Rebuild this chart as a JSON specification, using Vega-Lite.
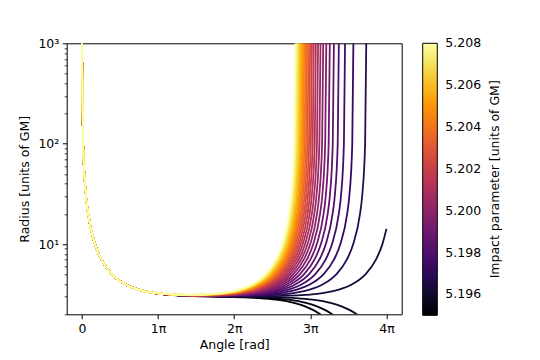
{
"$schema": "https://vega.github.io/schema/vega-lite/v6.json",
"width": 335, "height": 271,
"autosize": "none",
"padding": {"left": 66.7, "top": 43.3, "right": 138.3, "bottom": 45.7},
"background": "white",
"config": {
  "font": "DejaVu Sans",
  "view": {"stroke": "#000000", "strokeWidth": 1},
  "axis": {"grid": false, "domain": false, "tickColor": "#000", "labelColor": "#000", "titleColor": "#000", "labelFontSize": 12.5, "titleFontSize": 12.5, "titleFontWeight": "normal", "labelFont": "DejaVu Sans", "titleFont": "DejaVu Sans"},
  "legend": {"labelFontSize": 12.5, "titleFontSize": 12.5, "titleFontWeight": "normal", "labelColor": "#000", "titleColor": "#000", "labelFont": "DejaVu Sans", "titleFont": "DejaVu Sans"}
},
"data": {"values": [
{"b":5.195,"p":0,"r":1000},{"b":5.195,"p":0.047,"r":100},{"b":5.195,"p":0.169,"r":30},{"b":5.195,"p":0.257,"r":20},{"b":5.195,"p":0.537,"r":10},{"b":5.195,"p":0.804,"r":7},{"b":5.195,"p":1.237,"r":5},{"b":5.195,"p":1.767,"r":4},{"b":5.195,"p":2.366,"r":3.5},{"b":5.195,"p":2.837,"r":3.3},
{"b":5.195,"p":3.221,"r":3.198},{"b":5.195,"p":3.893,"r":3.096},{"b":5.195,"p":4.575,"r":3.043},{"b":5.195,"p":5.572,"r":3},{"b":5.195,"p":6.592,"r":2.956},{"b":5.195,"p":7.297,"r":2.903},{"b":5.195,"p":8.013,"r":2.801},{"b":5.195,"p":8.754,"r":2.6},{"b":5.195,"p":9.21,"r":2.4},{"b":5.195,"p":9.552,"r":2.2},{"b":5.195,"p":9.833,"r":2},{"b":5.195,"p":10.077,"r":1.8},
{"b":5.19545,"p":0,"r":1000},{"b":5.19545,"p":0.047,"r":100},{"b":5.19545,"p":0.169,"r":30},{"b":5.19545,"p":0.257,"r":20},{"b":5.19545,"p":0.537,"r":10},{"b":5.19545,"p":0.804,"r":7},{"b":5.19545,"p":1.237,"r":5},{"b":5.19545,"p":1.767,"r":4},{"b":5.19545,"p":2.366,"r":3.5},{"b":5.19545,"p":2.837,"r":3.3},
{"b":5.19545,"p":3.221,"r":3.199},{"b":5.19545,"p":3.893,"r":3.098},{"b":5.19545,"p":4.575,"r":3.046},{"b":5.19545,"p":5.819,"r":3},{"b":5.19545,"p":7.085,"r":2.954},{"b":5.19545,"p":7.79,"r":2.902},{"b":5.19545,"p":8.506,"r":2.8},{"b":5.19545,"p":9.247,"r":2.6},{"b":5.19545,"p":9.703,"r":2.4},{"b":5.19545,"p":10.045,"r":2.2},{"b":5.19545,"p":10.326,"r":2},{"b":5.19545,"p":10.57,"r":1.8},
{"b":5.1959,"p":0,"r":1000},{"b":5.1959,"p":0.047,"r":100},{"b":5.1959,"p":0.169,"r":30},{"b":5.1959,"p":0.257,"r":20},{"b":5.1959,"p":0.537,"r":10},{"b":5.1959,"p":0.804,"r":7},{"b":5.1959,"p":1.237,"r":5},{"b":5.1959,"p":1.767,"r":4},{"b":5.1959,"p":2.366,"r":3.5},{"b":5.1959,"p":2.837,"r":3.3},
{"b":5.1959,"p":3.221,"r":3.2},{"b":5.1959,"p":3.893,"r":3.099},{"b":5.1959,"p":4.575,"r":3.049},{"b":5.1959,"p":5.487,"r":3.016},{"b":5.1959,"p":6.325,"r":3},{"b":5.1959,"p":7.174,"r":2.984},{"b":5.1959,"p":8.097,"r":2.951},{"b":5.1959,"p":8.802,"r":2.9},{"b":5.1959,"p":9.518,"r":2.8},{"b":5.1959,"p":10.259,"r":2.6},{"b":5.1959,"p":10.715,"r":2.4},{"b":5.1959,"p":11.057,"r":2.2},{"b":5.1959,"p":11.338,"r":2},{"b":5.1959,"p":11.582,"r":1.8},
{"b":5.19634,"p":0,"r":1000},{"b":5.19634,"p":0.047,"r":100},{"b":5.19634,"p":0.169,"r":30},{"b":5.19634,"p":0.257,"r":20},{"b":5.19634,"p":0.537,"r":10},{"b":5.19634,"p":0.804,"r":7},{"b":5.19634,"p":1.237,"r":5},{"b":5.19634,"p":1.767,"r":4},{"b":5.19634,"p":2.366,"r":3.5},{"b":5.19634,"p":2.837,"r":3.3},
{"b":5.19634,"p":3.221,"r":3.2},{"b":5.19634,"p":3.893,"r":3.101},{"b":5.19634,"p":4.575,"r":3.051},{"b":5.19634,"p":5.487,"r":3.023},{"b":5.19634,"p":6.467,"r":3.015},{"b":5.19634,"p":7.448,"r":3.023},{"b":5.19634,"p":8.36,"r":3.051},{"b":5.19634,"p":9.042,"r":3.101},{"b":5.19634,"p":9.714,"r":3.2},{"b":5.19634,"p":10.098,"r":3.3},{"b":5.19634,"p":10.569,"r":3.5},{"b":5.19634,"p":11.168,"r":4},{"b":5.19634,"p":11.698,"r":5},{"b":5.19634,"p":12.131,"r":7},{"b":5.19634,"p":12.398,"r":10},{"b":5.19634,"p":12.566,"r":14.19},
{"b":5.19679,"p":0,"r":1000},{"b":5.19679,"p":0.047,"r":100},{"b":5.19679,"p":0.169,"r":30},{"b":5.19679,"p":0.257,"r":20},{"b":5.19679,"p":0.537,"r":10},{"b":5.19679,"p":0.804,"r":7},{"b":5.19679,"p":1.237,"r":5},{"b":5.19679,"p":1.767,"r":4},{"b":5.19679,"p":2.366,"r":3.5},{"b":5.19679,"p":2.837,"r":3.3},
{"b":5.19679,"p":3.221,"r":3.2},{"b":5.19679,"p":3.893,"r":3.102},{"b":5.19679,"p":4.575,"r":3.054},{"b":5.19679,"p":5.866,"r":3.027},{"b":5.19679,"p":7.157,"r":3.054},{"b":5.19679,"p":7.839,"r":3.102},{"b":5.19679,"p":8.511,"r":3.2},{"b":5.19679,"p":8.895,"r":3.3},{"b":5.19679,"p":9.366,"r":3.5},{"b":5.19679,"p":9.965,"r":4},{"b":5.19679,"p":10.495,"r":5},{"b":5.19679,"p":10.928,"r":7},{"b":5.19679,"p":11.195,"r":10},{"b":5.19679,"p":11.474,"r":20},{"b":5.19679,"p":11.563,"r":30},{"b":5.19679,"p":11.685,"r":100},{"b":5.19679,"p":11.732,"r":1000},
{"b":5.19724,"p":0,"r":1000},{"b":5.19724,"p":0.047,"r":100},{"b":5.19724,"p":0.169,"r":30},{"b":5.19724,"p":0.257,"r":20},{"b":5.19724,"p":0.537,"r":10},{"b":5.19724,"p":0.804,"r":7},{"b":5.19724,"p":1.237,"r":5},{"b":5.19724,"p":1.767,"r":4},{"b":5.19724,"p":2.366,"r":3.5},{"b":5.19724,"p":2.837,"r":3.3},
{"b":5.19724,"p":3.221,"r":3.2},{"b":5.19724,"p":3.893,"r":3.103},{"b":5.19724,"p":4.575,"r":3.057},{"b":5.19724,"p":5.601,"r":3.036},{"b":5.19724,"p":6.626,"r":3.057},{"b":5.19724,"p":7.309,"r":3.103},{"b":5.19724,"p":7.98,"r":3.2},{"b":5.19724,"p":8.365,"r":3.3},{"b":5.19724,"p":8.835,"r":3.5},{"b":5.19724,"p":9.435,"r":4},{"b":5.19724,"p":9.965,"r":5},{"b":5.19724,"p":10.398,"r":7},{"b":5.19724,"p":10.665,"r":10},{"b":5.19724,"p":10.944,"r":20},{"b":5.19724,"p":11.033,"r":30},{"b":5.19724,"p":11.155,"r":100},{"b":5.19724,"p":11.201,"r":1000},
{"b":5.19769,"p":0,"r":1000},{"b":5.19769,"p":0.047,"r":100},{"b":5.19769,"p":0.169,"r":30},{"b":5.19769,"p":0.257,"r":20},{"b":5.19769,"p":0.537,"r":10},{"b":5.19769,"p":0.804,"r":7},{"b":5.19769,"p":1.237,"r":5},{"b":5.19769,"p":1.767,"r":4},{"b":5.19769,"p":2.366,"r":3.5},{"b":5.19769,"p":2.837,"r":3.3},
{"b":5.19769,"p":3.221,"r":3.2},{"b":5.19769,"p":3.893,"r":3.105},{"b":5.19769,"p":5.428,"r":3.043},{"b":5.19769,"p":6.964,"r":3.105},{"b":5.19769,"p":7.636,"r":3.2},{"b":5.19769,"p":8.02,"r":3.3},{"b":5.19769,"p":8.491,"r":3.5},{"b":5.19769,"p":9.09,"r":4},{"b":5.19769,"p":9.62,"r":5},{"b":5.19769,"p":10.053,"r":7},{"b":5.19769,"p":10.32,"r":10},{"b":5.19769,"p":10.599,"r":20},{"b":5.19769,"p":10.688,"r":30},{"b":5.19769,"p":10.81,"r":100},{"b":5.19769,"p":10.857,"r":1000},
{"b":5.19814,"p":0,"r":1000},{"b":5.19814,"p":0.047,"r":100},{"b":5.19814,"p":0.169,"r":30},{"b":5.19814,"p":0.257,"r":20},{"b":5.19814,"p":0.537,"r":10},{"b":5.19814,"p":0.804,"r":7},{"b":5.19814,"p":1.237,"r":5},{"b":5.19814,"p":1.767,"r":4},{"b":5.19814,"p":2.366,"r":3.5},{"b":5.19814,"p":2.837,"r":3.3},
{"b":5.19814,"p":3.221,"r":3.2},{"b":5.19814,"p":3.893,"r":3.106},{"b":5.19814,"p":5.3,"r":3.049},{"b":5.19814,"p":6.708,"r":3.106},{"b":5.19814,"p":7.38,"r":3.2},{"b":5.19814,"p":7.764,"r":3.3},{"b":5.19814,"p":8.235,"r":3.5},{"b":5.19814,"p":8.834,"r":4},{"b":5.19814,"p":9.364,"r":5},{"b":5.19814,"p":9.797,"r":7},{"b":5.19814,"p":10.064,"r":10},{"b":5.19814,"p":10.343,"r":20},{"b":5.19814,"p":10.432,"r":30},{"b":5.19814,"p":10.554,"r":100},{"b":5.19814,"p":10.601,"r":1000},
{"b":5.19859,"p":0,"r":1000},{"b":5.19859,"p":0.047,"r":100},{"b":5.19859,"p":0.169,"r":30},{"b":5.19859,"p":0.257,"r":20},{"b":5.19859,"p":0.537,"r":10},{"b":5.19859,"p":0.804,"r":7},{"b":5.19859,"p":1.237,"r":5},{"b":5.19859,"p":1.767,"r":4},{"b":5.19859,"p":2.366,"r":3.5},{"b":5.19859,"p":2.837,"r":3.3},
{"b":5.19859,"p":3.221,"r":3.2},{"b":5.19859,"p":3.893,"r":3.108},{"b":5.19859,"p":5.199,"r":3.054},{"b":5.19859,"p":6.504,"r":3.108},{"b":5.19859,"p":7.176,"r":3.2},{"b":5.19859,"p":7.561,"r":3.3},{"b":5.19859,"p":8.031,"r":3.5},{"b":5.19859,"p":8.63,"r":4},{"b":5.19859,"p":9.16,"r":5},{"b":5.19859,"p":9.593,"r":7},{"b":5.19859,"p":9.861,"r":10},{"b":5.19859,"p":10.14,"r":20},{"b":5.19859,"p":10.228,"r":30},{"b":5.19859,"p":10.35,"r":100},{"b":5.19859,"p":10.397,"r":1000},
{"b":5.19903,"p":0,"r":1000},{"b":5.19903,"p":0.047,"r":100},{"b":5.19903,"p":0.169,"r":30},{"b":5.19903,"p":0.257,"r":20},{"b":5.19903,"p":0.537,"r":10},{"b":5.19903,"p":0.804,"r":7},{"b":5.19903,"p":1.237,"r":5},{"b":5.19903,"p":1.767,"r":4},{"b":5.19903,"p":2.366,"r":3.5},{"b":5.19903,"p":2.837,"r":3.3},
{"b":5.19903,"p":3.221,"r":3.2},{"b":5.19903,"p":3.893,"r":3.109},{"b":5.19903,"p":5.114,"r":3.059},{"b":5.19903,"p":6.335,"r":3.109},{"b":5.19903,"p":7.007,"r":3.2},{"b":5.19903,"p":7.392,"r":3.3},{"b":5.19903,"p":7.862,"r":3.5},{"b":5.19903,"p":8.461,"r":4},{"b":5.19903,"p":8.991,"r":5},{"b":5.19903,"p":9.424,"r":7},{"b":5.19903,"p":9.692,"r":10},{"b":5.19903,"p":9.971,"r":20},{"b":5.19903,"p":10.059,"r":30},{"b":5.19903,"p":10.181,"r":100},{"b":5.19903,"p":10.228,"r":1000},
{"b":5.19948,"p":0,"r":1000},{"b":5.19948,"p":0.047,"r":100},{"b":5.19948,"p":0.169,"r":30},{"b":5.19948,"p":0.257,"r":20},{"b":5.19948,"p":0.537,"r":10},{"b":5.19948,"p":0.804,"r":7},{"b":5.19948,"p":1.237,"r":5},{"b":5.19948,"p":1.767,"r":4},{"b":5.19948,"p":2.366,"r":3.5},{"b":5.19948,"p":2.837,"r":3.3},
{"b":5.19948,"p":3.221,"r":3.2},{"b":5.19948,"p":3.893,"r":3.111},{"b":5.19948,"p":5.042,"r":3.063},{"b":5.19948,"p":6.191,"r":3.111},{"b":5.19948,"p":6.863,"r":3.2},{"b":5.19948,"p":7.247,"r":3.3},{"b":5.19948,"p":7.717,"r":3.5},{"b":5.19948,"p":8.317,"r":4},{"b":5.19948,"p":8.847,"r":5},{"b":5.19948,"p":9.28,"r":7},{"b":5.19948,"p":9.547,"r":10},{"b":5.19948,"p":9.826,"r":20},{"b":5.19948,"p":9.915,"r":30},{"b":5.19948,"p":10.037,"r":100},{"b":5.19948,"p":10.084,"r":1000},
{"b":5.19993,"p":0,"r":1000},{"b":5.19993,"p":0.047,"r":100},{"b":5.19993,"p":0.169,"r":30},{"b":5.19993,"p":0.257,"r":20},{"b":5.19993,"p":0.537,"r":10},{"b":5.19993,"p":0.804,"r":7},{"b":5.19993,"p":1.237,"r":5},{"b":5.19993,"p":1.767,"r":4},{"b":5.19993,"p":2.366,"r":3.5},{"b":5.19993,"p":2.837,"r":3.3},
{"b":5.19993,"p":3.221,"r":3.2},{"b":5.19993,"p":3.893,"r":3.112},{"b":5.19993,"p":4.979,"r":3.068},{"b":5.19993,"p":6.065,"r":3.112},{"b":5.19993,"p":6.736,"r":3.2},{"b":5.19993,"p":7.121,"r":3.3},{"b":5.19993,"p":7.591,"r":3.5},{"b":5.19993,"p":8.19,"r":4},{"b":5.19993,"p":8.72,"r":5},{"b":5.19993,"p":9.153,"r":7},{"b":5.19993,"p":9.421,"r":10},{"b":5.19993,"p":9.7,"r":20},{"b":5.19993,"p":9.788,"r":30},{"b":5.19993,"p":9.91,"r":100},{"b":5.19993,"p":9.957,"r":1000},
{"b":5.20038,"p":0,"r":1000},{"b":5.20038,"p":0.047,"r":100},{"b":5.20038,"p":0.169,"r":30},{"b":5.20038,"p":0.257,"r":20},{"b":5.20038,"p":0.537,"r":10},{"b":5.20038,"p":0.804,"r":7},{"b":5.20038,"p":1.237,"r":5},{"b":5.20038,"p":1.767,"r":4},{"b":5.20038,"p":2.366,"r":3.5},{"b":5.20038,"p":2.837,"r":3.3},
{"b":5.20038,"p":3.221,"r":3.2},{"b":5.20038,"p":3.893,"r":3.114},{"b":5.20038,"p":4.923,"r":3.072},{"b":5.20038,"p":5.952,"r":3.114},{"b":5.20038,"p":6.624,"r":3.2},{"b":5.20038,"p":7.009,"r":3.3},{"b":5.20038,"p":7.479,"r":3.5},{"b":5.20038,"p":8.078,"r":4},{"b":5.20038,"p":8.608,"r":5},{"b":5.20038,"p":9.041,"r":7},{"b":5.20038,"p":9.309,"r":10},{"b":5.20038,"p":9.588,"r":20},{"b":5.20038,"p":9.676,"r":30},{"b":5.20038,"p":9.798,"r":100},{"b":5.20038,"p":9.845,"r":1000},
{"b":5.20083,"p":0,"r":1000},{"b":5.20083,"p":0.047,"r":100},{"b":5.20083,"p":0.169,"r":30},{"b":5.20083,"p":0.257,"r":20},{"b":5.20083,"p":0.537,"r":10},{"b":5.20083,"p":0.804,"r":7},{"b":5.20083,"p":1.237,"r":5},{"b":5.20083,"p":1.767,"r":4},{"b":5.20083,"p":2.366,"r":3.5},{"b":5.20083,"p":2.837,"r":3.3},
{"b":5.20083,"p":3.221,"r":3.2},{"b":5.20083,"p":3.893,"r":3.115},{"b":5.20083,"p":4.872,"r":3.075},{"b":5.20083,"p":5.852,"r":3.115},{"b":5.20083,"p":6.523,"r":3.2},{"b":5.20083,"p":6.908,"r":3.3},{"b":5.20083,"p":7.378,"r":3.5},{"b":5.20083,"p":7.978,"r":4},{"b":5.20083,"p":8.508,"r":5},{"b":5.20083,"p":8.941,"r":7},{"b":5.20083,"p":9.208,"r":10},{"b":5.20083,"p":9.487,"r":20},{"b":5.20083,"p":9.576,"r":30},{"b":5.20083,"p":9.698,"r":100},{"b":5.20083,"p":9.744,"r":1000},
{"b":5.20128,"p":0,"r":1000},{"b":5.20128,"p":0.047,"r":100},{"b":5.20128,"p":0.169,"r":30},{"b":5.20128,"p":0.257,"r":20},{"b":5.20128,"p":0.537,"r":10},{"b":5.20128,"p":0.804,"r":7},{"b":5.20128,"p":1.237,"r":5},{"b":5.20128,"p":1.767,"r":4},{"b":5.20128,"p":2.366,"r":3.5},{"b":5.20128,"p":2.837,"r":3.3},
{"b":5.20128,"p":3.221,"r":3.2},{"b":5.20128,"p":3.893,"r":3.116},{"b":5.20128,"p":4.826,"r":3.079},{"b":5.20128,"p":5.76,"r":3.116},{"b":5.20128,"p":6.432,"r":3.2},{"b":5.20128,"p":6.816,"r":3.3},{"b":5.20128,"p":7.287,"r":3.5},{"b":5.20128,"p":7.886,"r":4},{"b":5.20128,"p":8.416,"r":5},{"b":5.20128,"p":8.849,"r":7},{"b":5.20128,"p":9.116,"r":10},{"b":5.20128,"p":9.395,"r":20},{"b":5.20128,"p":9.484,"r":30},{"b":5.20128,"p":9.606,"r":100},{"b":5.20128,"p":9.653,"r":1000},
{"b":5.20172,"p":0,"r":1000},{"b":5.20172,"p":0.047,"r":100},{"b":5.20172,"p":0.169,"r":30},{"b":5.20172,"p":0.257,"r":20},{"b":5.20172,"p":0.537,"r":10},{"b":5.20172,"p":0.804,"r":7},{"b":5.20172,"p":1.237,"r":5},{"b":5.20172,"p":1.767,"r":4},{"b":5.20172,"p":2.366,"r":3.5},{"b":5.20172,"p":2.837,"r":3.3},
{"b":5.20172,"p":3.221,"r":3.2},{"b":5.20172,"p":3.893,"r":3.118},{"b":5.20172,"p":4.785,"r":3.082},{"b":5.20172,"p":5.676,"r":3.118},{"b":5.20172,"p":6.348,"r":3.2},{"b":5.20172,"p":6.732,"r":3.3},{"b":5.20172,"p":7.203,"r":3.5},{"b":5.20172,"p":7.802,"r":4},{"b":5.20172,"p":8.332,"r":5},{"b":5.20172,"p":8.765,"r":7},{"b":5.20172,"p":9.032,"r":10},{"b":5.20172,"p":9.312,"r":20},{"b":5.20172,"p":9.4,"r":30},{"b":5.20172,"p":9.522,"r":100},{"b":5.20172,"p":9.569,"r":1000},
{"b":5.20217,"p":0,"r":1000},{"b":5.20217,"p":0.047,"r":100},{"b":5.20217,"p":0.169,"r":30},{"b":5.20217,"p":0.257,"r":20},{"b":5.20217,"p":0.537,"r":10},{"b":5.20217,"p":0.804,"r":7},{"b":5.20217,"p":1.237,"r":5},{"b":5.20217,"p":1.767,"r":4},{"b":5.20217,"p":2.366,"r":3.5},{"b":5.20217,"p":2.837,"r":3.3},
{"b":5.20217,"p":3.221,"r":3.211},{"b":5.20217,"p":4.746,"r":3.086},{"b":5.20217,"p":6.271,"r":3.211},{"b":5.20217,"p":6.655,"r":3.3},{"b":5.20217,"p":7.125,"r":3.5},{"b":5.20217,"p":7.725,"r":4},{"b":5.20217,"p":8.255,"r":5},{"b":5.20217,"p":8.688,"r":7},{"b":5.20217,"p":8.955,"r":10},{"b":5.20217,"p":9.234,"r":20},{"b":5.20217,"p":9.323,"r":30},{"b":5.20217,"p":9.445,"r":100},{"b":5.20217,"p":9.492,"r":1000},
{"b":5.20262,"p":0,"r":1000},{"b":5.20262,"p":0.047,"r":100},{"b":5.20262,"p":0.169,"r":30},{"b":5.20262,"p":0.257,"r":20},{"b":5.20262,"p":0.537,"r":10},{"b":5.20262,"p":0.804,"r":7},{"b":5.20262,"p":1.237,"r":5},{"b":5.20262,"p":1.767,"r":4},{"b":5.20262,"p":2.366,"r":3.5},{"b":5.20262,"p":2.837,"r":3.3},
{"b":5.20262,"p":3.221,"r":3.211},{"b":5.20262,"p":4.71,"r":3.089},{"b":5.20262,"p":6.199,"r":3.211},{"b":5.20262,"p":6.583,"r":3.3},{"b":5.20262,"p":7.054,"r":3.5},{"b":5.20262,"p":7.653,"r":4},{"b":5.20262,"p":8.183,"r":5},{"b":5.20262,"p":8.616,"r":7},{"b":5.20262,"p":8.883,"r":10},{"b":5.20262,"p":9.162,"r":20},{"b":5.20262,"p":9.251,"r":30},{"b":5.20262,"p":9.373,"r":100},{"b":5.20262,"p":9.42,"r":1000},
{"b":5.20307,"p":0,"r":1000},{"b":5.20307,"p":0.047,"r":100},{"b":5.20307,"p":0.169,"r":30},{"b":5.20307,"p":0.257,"r":20},{"b":5.20307,"p":0.537,"r":10},{"b":5.20307,"p":0.804,"r":7},{"b":5.20307,"p":1.237,"r":5},{"b":5.20307,"p":1.767,"r":4},{"b":5.20307,"p":2.366,"r":3.5},{"b":5.20307,"p":2.837,"r":3.3},
{"b":5.20307,"p":3.221,"r":3.212},{"b":5.20307,"p":4.676,"r":3.092},{"b":5.20307,"p":6.132,"r":3.212},{"b":5.20307,"p":6.516,"r":3.3},{"b":5.20307,"p":6.987,"r":3.5},{"b":5.20307,"p":7.586,"r":4},{"b":5.20307,"p":8.116,"r":5},{"b":5.20307,"p":8.549,"r":7},{"b":5.20307,"p":8.816,"r":10},{"b":5.20307,"p":9.095,"r":20},{"b":5.20307,"p":9.184,"r":30},{"b":5.20307,"p":9.306,"r":100},{"b":5.20307,"p":9.353,"r":1000},
{"b":5.20352,"p":0,"r":1000},{"b":5.20352,"p":0.047,"r":100},{"b":5.20352,"p":0.169,"r":30},{"b":5.20352,"p":0.257,"r":20},{"b":5.20352,"p":0.537,"r":10},{"b":5.20352,"p":0.804,"r":7},{"b":5.20352,"p":1.237,"r":5},{"b":5.20352,"p":1.767,"r":4},{"b":5.20352,"p":2.366,"r":3.5},{"b":5.20352,"p":2.837,"r":3.3},
{"b":5.20352,"p":3.221,"r":3.213},{"b":5.20352,"p":4.645,"r":3.095},{"b":5.20352,"p":6.069,"r":3.213},{"b":5.20352,"p":6.453,"r":3.3},{"b":5.20352,"p":6.924,"r":3.5},{"b":5.20352,"p":7.523,"r":4},{"b":5.20352,"p":8.053,"r":5},{"b":5.20352,"p":8.486,"r":7},{"b":5.20352,"p":8.753,"r":10},{"b":5.20352,"p":9.032,"r":20},{"b":5.20352,"p":9.121,"r":30},{"b":5.20352,"p":9.243,"r":100},{"b":5.20352,"p":9.29,"r":1000},
{"b":5.20397,"p":0,"r":1000},{"b":5.20397,"p":0.047,"r":100},{"b":5.20397,"p":0.169,"r":30},{"b":5.20397,"p":0.257,"r":20},{"b":5.20397,"p":0.537,"r":10},{"b":5.20397,"p":0.804,"r":7},{"b":5.20397,"p":1.237,"r":5},{"b":5.20397,"p":1.767,"r":4},{"b":5.20397,"p":2.366,"r":3.5},{"b":5.20397,"p":2.837,"r":3.3},
{"b":5.20397,"p":3.221,"r":3.214},{"b":5.20397,"p":4.615,"r":3.098},{"b":5.20397,"p":6.01,"r":3.214},{"b":5.20397,"p":6.394,"r":3.3},{"b":5.20397,"p":6.865,"r":3.5},{"b":5.20397,"p":7.464,"r":4},{"b":5.20397,"p":7.994,"r":5},{"b":5.20397,"p":8.427,"r":7},{"b":5.20397,"p":8.694,"r":10},{"b":5.20397,"p":8.973,"r":20},{"b":5.20397,"p":9.062,"r":30},{"b":5.20397,"p":9.184,"r":100},{"b":5.20397,"p":9.231,"r":1000},
{"b":5.20441,"p":0,"r":1000},{"b":5.20441,"p":0.047,"r":100},{"b":5.20441,"p":0.169,"r":30},{"b":5.20441,"p":0.257,"r":20},{"b":5.20441,"p":0.537,"r":10},{"b":5.20441,"p":0.804,"r":7},{"b":5.20441,"p":1.237,"r":5},{"b":5.20441,"p":1.767,"r":4},{"b":5.20441,"p":2.366,"r":3.5},{"b":5.20441,"p":2.837,"r":3.3},
{"b":5.20441,"p":3.221,"r":3.215},{"b":5.20441,"p":4.588,"r":3.101},{"b":5.20441,"p":5.954,"r":3.215},{"b":5.20441,"p":6.339,"r":3.3},{"b":5.20441,"p":6.809,"r":3.5},{"b":5.20441,"p":7.408,"r":4},{"b":5.20441,"p":7.938,"r":5},{"b":5.20441,"p":8.371,"r":7},{"b":5.20441,"p":8.638,"r":10},{"b":5.20441,"p":8.918,"r":20},{"b":5.20441,"p":9.006,"r":30},{"b":5.20441,"p":9.128,"r":100},{"b":5.20441,"p":9.175,"r":1000},
{"b":5.20486,"p":0,"r":1000},{"b":5.20486,"p":0.047,"r":100},{"b":5.20486,"p":0.169,"r":30},{"b":5.20486,"p":0.257,"r":20},{"b":5.20486,"p":0.537,"r":10},{"b":5.20486,"p":0.804,"r":7},{"b":5.20486,"p":1.237,"r":5},{"b":5.20486,"p":1.767,"r":4},{"b":5.20486,"p":2.366,"r":3.5},{"b":5.20486,"p":2.837,"r":3.3},
{"b":5.20486,"p":3.221,"r":3.215},{"b":5.20486,"p":4.561,"r":3.104},{"b":5.20486,"p":5.901,"r":3.215},{"b":5.20486,"p":6.286,"r":3.3},{"b":5.20486,"p":6.756,"r":3.5},{"b":5.20486,"p":7.355,"r":4},{"b":5.20486,"p":7.885,"r":5},{"b":5.20486,"p":8.318,"r":7},{"b":5.20486,"p":8.586,"r":10},{"b":5.20486,"p":8.865,"r":20},{"b":5.20486,"p":8.953,"r":30},{"b":5.20486,"p":9.075,"r":100},{"b":5.20486,"p":9.122,"r":1000},
{"b":5.20531,"p":0,"r":1000},{"b":5.20531,"p":0.047,"r":100},{"b":5.20531,"p":0.169,"r":30},{"b":5.20531,"p":0.257,"r":20},{"b":5.20531,"p":0.537,"r":10},{"b":5.20531,"p":0.804,"r":7},{"b":5.20531,"p":1.237,"r":5},{"b":5.20531,"p":1.767,"r":4},{"b":5.20531,"p":2.366,"r":3.5},{"b":5.20531,"p":2.837,"r":3.3},
{"b":5.20531,"p":3.221,"r":3.216},{"b":5.20531,"p":4.536,"r":3.106},{"b":5.20531,"p":5.851,"r":3.216},{"b":5.20531,"p":6.235,"r":3.3},{"b":5.20531,"p":6.706,"r":3.5},{"b":5.20531,"p":7.305,"r":4},{"b":5.20531,"p":7.835,"r":5},{"b":5.20531,"p":8.268,"r":7},{"b":5.20531,"p":8.535,"r":10},{"b":5.20531,"p":8.815,"r":20},{"b":5.20531,"p":8.903,"r":30},{"b":5.20531,"p":9.025,"r":100},{"b":5.20531,"p":9.072,"r":1000},
{"b":5.20576,"p":0,"r":1000},{"b":5.20576,"p":0.047,"r":100},{"b":5.20576,"p":0.169,"r":30},{"b":5.20576,"p":0.257,"r":20},{"b":5.20576,"p":0.537,"r":10},{"b":5.20576,"p":0.804,"r":7},{"b":5.20576,"p":1.237,"r":5},{"b":5.20576,"p":1.767,"r":4},{"b":5.20576,"p":2.366,"r":3.5},{"b":5.20576,"p":2.837,"r":3.3},
{"b":5.20576,"p":3.221,"r":3.217},{"b":5.20576,"p":4.512,"r":3.109},{"b":5.20576,"p":5.803,"r":3.217},{"b":5.20576,"p":6.188,"r":3.3},{"b":5.20576,"p":6.658,"r":3.5},{"b":5.20576,"p":7.257,"r":4},{"b":5.20576,"p":7.787,"r":5},{"b":5.20576,"p":8.22,"r":7},{"b":5.20576,"p":8.488,"r":10},{"b":5.20576,"p":8.767,"r":20},{"b":5.20576,"p":8.855,"r":30},{"b":5.20576,"p":8.977,"r":100},{"b":5.20576,"p":9.024,"r":1000},
{"b":5.20621,"p":0,"r":1000},{"b":5.20621,"p":0.047,"r":100},{"b":5.20621,"p":0.169,"r":30},{"b":5.20621,"p":0.257,"r":20},{"b":5.20621,"p":0.537,"r":10},{"b":5.20621,"p":0.804,"r":7},{"b":5.20621,"p":1.237,"r":5},{"b":5.20621,"p":1.767,"r":4},{"b":5.20621,"p":2.366,"r":3.5},{"b":5.20621,"p":2.837,"r":3.3},
{"b":5.20621,"p":3.221,"r":3.218},{"b":5.20621,"p":4.489,"r":3.112},{"b":5.20621,"p":5.758,"r":3.218},{"b":5.20621,"p":6.142,"r":3.3},{"b":5.20621,"p":6.612,"r":3.5},{"b":5.20621,"p":7.212,"r":4},{"b":5.20621,"p":7.742,"r":5},{"b":5.20621,"p":8.175,"r":7},{"b":5.20621,"p":8.442,"r":10},{"b":5.20621,"p":8.721,"r":20},{"b":5.20621,"p":8.81,"r":30},{"b":5.20621,"p":8.932,"r":100},{"b":5.20621,"p":8.979,"r":1000},
{"b":5.20666,"p":0,"r":1000},{"b":5.20666,"p":0.047,"r":100},{"b":5.20666,"p":0.169,"r":30},{"b":5.20666,"p":0.257,"r":20},{"b":5.20666,"p":0.537,"r":10},{"b":5.20666,"p":0.804,"r":7},{"b":5.20666,"p":1.237,"r":5},{"b":5.20666,"p":1.767,"r":4},{"b":5.20666,"p":2.366,"r":3.5},{"b":5.20666,"p":2.837,"r":3.3},
{"b":5.20666,"p":3.221,"r":3.219},{"b":5.20666,"p":4.468,"r":3.114},{"b":5.20666,"p":5.714,"r":3.219},{"b":5.20666,"p":6.098,"r":3.3},{"b":5.20666,"p":6.569,"r":3.5},{"b":5.20666,"p":7.168,"r":4},{"b":5.20666,"p":7.698,"r":5},{"b":5.20666,"p":8.131,"r":7},{"b":5.20666,"p":8.398,"r":10},{"b":5.20666,"p":8.678,"r":20},{"b":5.20666,"p":8.766,"r":30},{"b":5.20666,"p":8.888,"r":100},{"b":5.20666,"p":8.935,"r":1000},
{"b":5.2071,"p":0,"r":1000},{"b":5.2071,"p":0.047,"r":100},{"b":5.2071,"p":0.169,"r":30},{"b":5.2071,"p":0.257,"r":20},{"b":5.2071,"p":0.537,"r":10},{"b":5.2071,"p":0.804,"r":7},{"b":5.2071,"p":1.237,"r":5},{"b":5.2071,"p":1.767,"r":4},{"b":5.2071,"p":2.366,"r":3.5},{"b":5.2071,"p":2.837,"r":3.3},
{"b":5.2071,"p":3.221,"r":3.219},{"b":5.2071,"p":4.447,"r":3.117},{"b":5.2071,"p":5.672,"r":3.219},{"b":5.2071,"p":6.057,"r":3.3},{"b":5.2071,"p":6.527,"r":3.5},{"b":5.2071,"p":7.126,"r":4},{"b":5.2071,"p":7.656,"r":5},{"b":5.2071,"p":8.089,"r":7},{"b":5.2071,"p":8.357,"r":10},{"b":5.2071,"p":8.636,"r":20},{"b":5.2071,"p":8.724,"r":30},{"b":5.2071,"p":8.846,"r":100},{"b":5.2071,"p":8.893,"r":1000},
{"b":5.20755,"p":0,"r":1000},{"b":5.20755,"p":0.047,"r":100},{"b":5.20755,"p":0.169,"r":30},{"b":5.20755,"p":0.257,"r":20},{"b":5.20755,"p":0.537,"r":10},{"b":5.20755,"p":0.804,"r":7},{"b":5.20755,"p":1.237,"r":5},{"b":5.20755,"p":1.767,"r":4},{"b":5.20755,"p":2.366,"r":3.5},{"b":5.20755,"p":2.837,"r":3.3},
{"b":5.20755,"p":3.221,"r":3.22},{"b":5.20755,"p":4.427,"r":3.119},{"b":5.20755,"p":5.632,"r":3.22},{"b":5.20755,"p":6.017,"r":3.3},{"b":5.20755,"p":6.487,"r":3.5},{"b":5.20755,"p":7.086,"r":4},{"b":5.20755,"p":7.616,"r":5},{"b":5.20755,"p":8.049,"r":7},{"b":5.20755,"p":8.316,"r":10},{"b":5.20755,"p":8.596,"r":20},{"b":5.20755,"p":8.684,"r":30},{"b":5.20755,"p":8.806,"r":100},{"b":5.20755,"p":8.853,"r":1000},
{"b":5.208,"p":0,"r":1000},{"b":5.208,"p":0.047,"r":100},{"b":5.208,"p":0.169,"r":30},{"b":5.208,"p":0.257,"r":20},{"b":5.208,"p":0.537,"r":10},{"b":5.208,"p":0.804,"r":7},{"b":5.208,"p":1.237,"r":5},{"b":5.208,"p":1.767,"r":4},{"b":5.208,"p":2.366,"r":3.5},{"b":5.208,"p":2.837,"r":3.3},
{"b":5.208,"p":3.221,"r":3.221},{"b":5.208,"p":4.407,"r":3.122},{"b":5.208,"p":5.593,"r":3.221},{"b":5.208,"p":5.978,"r":3.3},{"b":5.208,"p":6.448,"r":3.5},{"b":5.208,"p":7.048,"r":4},{"b":5.208,"p":7.578,"r":5},{"b":5.208,"p":8.011,"r":7},{"b":5.208,"p":8.278,"r":10},{"b":5.208,"p":8.557,"r":20},{"b":5.208,"p":8.646,"r":30},{"b":5.208,"p":8.768,"r":100},{"b":5.208,"p":8.814,"r":1000}
]},
"mark": {"type": "line", "interpolate": "monotone", "strokeWidth": 1.8, "clip": true},
"encoding": {
  "x": {"field": "p", "type": "quantitative",
    "scale": {"domain": [-0.6283, 13.1947], "nice": false, "zero": false},
    "axis": {"title": "Angle [rad]", "values": [0, 3.14159265, 6.28318531, 9.42477796, 12.56637061],
      "labelExpr": "datum.value < 0.1 ? '0' : format(datum.value / PI, '.0f') + 'π'",
      "tickSize": 4.4, "tickWidth": 1, "labelPadding": 3.5, "titlePadding": 4, "labelFlush": false, "labelOverlap": false}},
  "y": {"field": "r", "type": "quantitative",
    "scale": {"type": "log", "domain": [2, 1000], "nice": false},
    "axis": {"title": "Radius [units of GM]",
      "values": [2,3,4,5,6,7,8,9,10,20,30,40,50,60,70,80,90,100,200,300,400,500,600,700,800,900,1000],
      "labelExpr": "datum.value === 10 ? '10¹' : datum.value === 100 ? '10²' : datum.value === 1000 ? '10³' : ''",
      "tickSize": {"condition": {"test": "datum.value === 10 || datum.value === 100 || datum.value === 1000", "value": 4.4}, "value": 2.5},
      "tickWidth": {"condition": {"test": "datum.value === 10 || datum.value === 100 || datum.value === 1000", "value": 1}, "value": 0.75},
      "labelPadding": 3.5, "titlePadding": 6, "labelOverlap": false}},
  "color": {"field": "b", "type": "quantitative",
    "scale": {"scheme": "inferno", "domain": [5.195, 5.208]},
    "legend": {"title": "Impact parameter [units of GM]", "orient": "right", "offset": 21, "padding": 0,
      "direction": "vertical", "gradientLength": 272, "gradientThickness": 14.6,
      "gradientStrokeColor": "#000", "gradientStrokeWidth": 1,
      "values": [5.196, 5.198, 5.2, 5.202, 5.204, 5.206, 5.208], "format": ".3f",
      "labelOffset": 8, "labelOverlap": false, "titleOrient": "right", "titleAnchor": "middle", "titlePadding": 8, "titleLimit": 600,
      "encode": {"title": {"update": {"angle": {"value": -90}, "baseline": {"value": "top"}}}, "labels": {"update": {"baseline": {"value": "middle"}}}}}},
  "detail": {"field": "b", "type": "quantitative"}
}
}
